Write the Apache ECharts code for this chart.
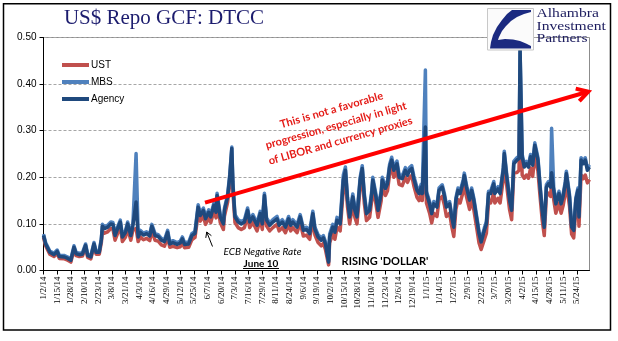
<!DOCTYPE html>
<html><head><meta charset="utf-8">
<script src="https://cdn.jsdelivr.net/npm/echarts@6/dist/echarts.min.js"></script>
<style>html,body{margin:0;padding:0;background:#fff}#c{width:618px;height:341px}</style>
</head><body><div id="c"></div>
<script>
// Calendar-day categories 1/2/14 .. 6/5/15 (x axis is a date axis, labelled every 13 days)
const startDate = Date.UTC(2014, 0, 2);
const numDays = 520;
const categories = [];
for (let i = 0; i < numDays; i++) {
  const dt = new Date(startDate + i * 86400000);
  categories.push((dt.getUTCMonth() + 1) + '/' + dt.getUTCDate() + '/' + String(dt.getUTCFullYear()).slice(2));
}
const seriesNames = ['UST', 'MBS', 'Agency'];
const yTicks = [0, 0.1, 0.2, 0.3, 0.4, 0.5];

// day offset (days since 1/2/14) of each sampled observation
const dayIdx = [0,2,6,10,13,15,20,23,26,29,31,34,37,40,42,45,48,50,53,55,
56,58,61,64,66,68,71,73,75,78,80,83,85,88,90,92,95,98,101,103,106,109,112,115,118,120,123,127,130,132,134,138,141,144,
147,149,152,154,157,159,162,164,165,168,171,172,175,177,179,180,182,185,188,191,194,196,199,203,206,208,210,212,215,218,222,224,227,230,233,235,237,241,244,247,250,253,256,258,261,264,266,268,271,
272,275,277,279,282,285,287,289,291,294,296,298,301,303,305,307,310,312,313,316,318,321,322,325,327,329,331,333,336,338,341,344,346,348,350,352,355,357,359,360,
363,364,367,369,371,374,376,379,381,383,386,388,390,392,394,396,399,400,402,405,407,409,412,414,416,419,421,423,425,428,429,432,434,437,438,440,443,445,447,450,452,453,455,457,459,461,463,465,467,470,472,474,476,478,480,482,483,485,487,490,492,494,496,497,500,502,504,506,508,509,511,513,515,517,519];

const agency = [.075,.057,.039,.034,.041,.030,.029,.026,.022,.050,.036,.034,.035,.054,.032,.029,.057,.039,.039,.066,
.095,.090,.093,.100,.099,.075,.093,.104,.072,.082,.100,.075,.097,.147,.072,.082,.076,.079,.074,.095,.075,.073,.065,.062,.082,.057,.060,.056,.059,.068,.056,.057,.075,.080,
.136,.118,.129,.111,.125,.115,.140,.125,.161,.115,.100,.129,.158,.200,.262,.186,.115,.104,.100,.104,.129,.104,.115,.097,.122,.100,.161,.108,.097,.104,.111,.097,.104,.093,.111,.097,.104,.093,.115,.086,.088,.079,.122,.088,.072,.065,.070,.057,.018,
.072,.093,.082,.108,.100,.194,.215,.151,.115,.158,.129,.115,.194,.219,.158,.122,.129,.165,.194,.158,.129,.165,.194,.176,.186,.222,.237,.215,.229,.200,.197,.215,.204,.215,.219,.197,.172,.165,.179,.165,
.308,.165,.143,.122,.143,.136,.172,.179,.161,.136,.143,.115,.093,.151,.172,.165,.190,.204,.179,.151,.172,.151,.108,.079,.061,.086,.100,.165,.165,.186,.165,.175,.165,.215,.251,.208,.151,.129,.229,.237,.240,.475,.244,.222,.229,.222,.244,.226,.269,.237,.179,.129,.093,.179,.186,.179,.210,.172,.143,.165,.143,.160,.186,.208,.158,.093,.086,.151,.172,.115,.237,.229,.237,.215,.222];

const ust = [.071,.053,.035,.030,.037,.026,.025,.022,.018,.046,.032,.030,.031,.050,.028,.025,.053,.035,.035,.060,
.085,.080,.083,.090,.089,.065,.083,.094,.062,.072,.090,.065,.087,.090,.062,.072,.066,.069,.064,.085,.065,.063,.055,.052,.072,.050,.052,.049,.051,.060,.049,.050,.066,.071,
.122,.106,.117,.099,.113,.103,.128,.113,.149,.103,.088,.117,.146,.185,.240,.170,.103,.092,.088,.092,.117,.092,.103,.085,.110,.088,.149,.096,.085,.092,.099,.085,.092,.081,.099,.085,.092,.081,.103,.074,.076,.067,.110,.076,.060,.053,.058,.045,.012,
.060,.078,.067,.093,.085,.175,.195,.136,.100,.143,.114,.100,.179,.204,.143,.107,.114,.150,.179,.143,.114,.150,.179,.161,.171,.207,.222,.200,.214,.185,.182,.200,.189,.200,.204,.182,.157,.150,.164,.150,
.260,.145,.123,.102,.123,.116,.152,.159,.141,.116,.123,.095,.073,.131,.152,.145,.170,.184,.159,.131,.152,.131,.088,.059,.045,.066,.080,.145,.145,.166,.145,.155,.145,.195,.231,.188,.131,.109,.209,.210,.215,.380,.205,.198,.205,.198,.220,.202,.245,.213,.159,.109,.075,.159,.166,.159,.190,.152,.123,.145,.123,.140,.166,.188,.138,.078,.070,.131,.152,.095,.205,.197,.205,.188,.195];

const mbs = [.078,.060,.042,.037,.044,.033,.032,.029,.025,.053,.039,.037,.038,.057,.035,.032,.060,.042,.042,.069,
.099,.094,.097,.104,.103,.079,.097,.108,.076,.086,.104,.079,.101,.251,.076,.086,.080,.083,.078,.099,.079,.077,.069,.066,.086,.061,.064,.060,.063,.072,.060,.061,.079,.084,
.141,.123,.134,.116,.130,.120,.145,.130,.166,.120,.105,.134,.163,.205,.265,.190,.120,.109,.105,.109,.134,.109,.120,.102,.127,.105,.166,.113,.102,.109,.116,.102,.109,.098,.116,.102,.109,.098,.120,.091,.093,.084,.127,.093,.077,.070,.075,.062,.020,
.078,.099,.088,.114,.106,.205,.222,.157,.121,.164,.135,.121,.200,.225,.164,.128,.135,.171,.200,.164,.135,.171,.200,.182,.192,.228,.243,.221,.235,.206,.203,.221,.210,.221,.225,.203,.178,.171,.185,.171,
.430,.170,.148,.127,.148,.141,.177,.184,.166,.141,.148,.120,.098,.156,.177,.170,.195,.209,.184,.156,.177,.156,.113,.084,.066,.091,.105,.170,.170,.191,.170,.180,.170,.220,.256,.213,.156,.134,.234,.242,.245,.470,.249,.227,.234,.227,.249,.231,.274,.242,.184,.134,.098,.184,.191,.184,.305,.177,.148,.170,.148,.165,.191,.213,.163,.098,.091,.156,.177,.120,.242,.234,.242,.220,.227];

const colors = { UST: '#c0504d', MBS: '#4f81bd', Agency: '#1f497d' };
const values = { UST: ust, MBS: mbs, Agency: agency };

const chart = echarts.init(document.getElementById('c'), null, { renderer: 'canvas' });

function lineSeries(name) {
  return {
    name: name, type: 'line', symbol: 'none', animation: false,
    data: dayIdx.map((d, i) => [d, values[name][i]]),
    lineStyle: { width: 3.5, color: colors[name], join: 'round' },
    itemStyle: { color: colors[name] }
  };
}

const serif = '"Liberation Serif", "Times New Roman", serif';
const sans = '"Liberation Sans", Arial, sans-serif';

const option = {
  animation: false,
  backgroundColor: '#fff',
  grid: { left: 43.5, right: 28.5, top: 37.5, bottom: 70.5, show: true, borderColor: '#8c8c8c', borderWidth: 1 },
  legend: {
    data: seriesNames, orient: 'vertical', left: 57, top: 55,
    icon: 'rect', itemWidth: 27, itemHeight: 4, itemGap: 7,
    textStyle: { fontFamily: sans, fontSize: 10, color: '#000', padding: [0, 0, 0, -3] }
  },
  xAxis: {
    type: 'category', data: categories, boundaryGap: false,
    axisLine: { lineStyle: { color: '#000', width: 1 } },
    axisTick: { interval: 12, length: 4, lineStyle: { color: '#000' } },
    axisLabel: { interval: 12, rotate: 90, fontFamily: serif, fontSize: 9, color: '#000', margin: 6 },
    splitLine: { show: false }
  },
  yAxis: {
    type: 'value', min: 0, max: 0.5, interval: 0.1,
    axisLine: { show: true, lineStyle: { color: '#000', width: 1 } },
    axisTick: { show: true, length: 4, lineStyle: { color: '#000' } },
    axisLabel: { formatter: v => v.toFixed(2), fontFamily: sans, fontSize: 10, color: '#000', margin: 7 },
    splitLine: { lineStyle: { type: [3, 2], color: '#a6a6a6', width: 1 } }
  },
  series: seriesNames.map(lineSeries),
  graphic: [
    { type: 'rect', shape: { x: 3.5, y: 3.75, width: 607, height: 326.25 }, style: { fill: 'none', stroke: '#000', lineWidth: 1.5 }, z: 100 },
    { type: 'text', x: 164, y: 18.5, style: { text: 'US$ Repo GCF: DTCC', font: '21px ' + serif, fill: '#1c1c6e', align: 'center', verticalAlign: 'middle' }, z: 100 },
    // logo
    { type: 'rect', shape: { x: 487.5, y: 8.5, width: 46, height: 41.5 }, style: { fill: '#fbfbfb', stroke: '#c8c8c8', lineWidth: 1 }, z: 100 },
    { type: 'polygon', shape: { points: [[512,10],[531,10],[531,12],[524,14],[517,17],[511,21],[506,26],[502,31],[499,37],[498,40],[505,39],[513,39.5],[520,41],[526,43.5],[531,46],[531,48.5],[490,48.5],[491,42],[493,35],[497,27],[502,20],[507,14]] }, style: { fill: '#1b2a80' }, z: 101 },
    { type: 'text', x: 536.5, y: 8, scaleX: 1.3, style: { text: 'Alhambra\nInvestment\nPartners', font: '12px ' + serif, lineHeight: 12.3, fill: '#1c1c5e', align: 'left', verticalAlign: 'top' }, z: 100 },
    // red arrow
    { type: 'line', shape: { x1: 205, y1: 202.7, x2: 587, y2: 92 }, style: { stroke: '#ff0000', lineWidth: 4 }, z: 90 },
    { type: 'polyline', shape: { points: [[575.7, 88.6], [588.3, 91.7], [579.3, 101.1]] }, style: { stroke: '#ff0000', lineWidth: 4, fill: 'none', lineJoin: 'miter' }, z: 90 },
    { type: 'text', x: 336, y: 125.5, rotation: 16 * Math.PI / 180, style: { text: 'This is not a favorable\nprogression, especially in light\nof LIBOR and currency proxies', font: 'bold 11px Lato, sans-serif', lineHeight: 16, fill: '#e41b17', align: 'center', verticalAlign: 'middle' }, z: 90 },
    // ECB annotation
    { type: 'line', shape: { x1: 212.5, y1: 246.5, x2: 206.7, y2: 232 }, style: { stroke: '#000', lineWidth: 1 }, z: 90 },
    { type: 'polyline', shape: { points: [[205.8, 237.9], [206.7, 232], [211.4, 235.7]] }, style: { stroke: '#000', lineWidth: 1, fill: 'none' }, z: 90 },
    { type: 'text', x: 262.5, y: 251.7, style: { text: 'ECB Negative Rate', font: 'italic 10px Lato, sans-serif', fill: '#000', align: 'center', verticalAlign: 'middle' }, z: 90 },
    { type: 'text', x: 261, y: 263.5, style: { text: 'June 10', font: 'bold 10px Lato, sans-serif', fill: '#000', align: 'center', verticalAlign: 'middle' }, z: 90 },
    { type: 'line', shape: { x1: 243, y1: 268.5, x2: 279, y2: 268.5 }, style: { stroke: '#000', lineWidth: 1 }, z: 90 },
    { type: 'text', x: 385, y: 261, style: { text: "RISING 'DOLLAR'", font: 'bold 11px Lato, sans-serif', fill: '#000', align: 'center', verticalAlign: 'middle' }, z: 90 }
  ]
};
chart.setOption(option);
</script>
</body></html>
